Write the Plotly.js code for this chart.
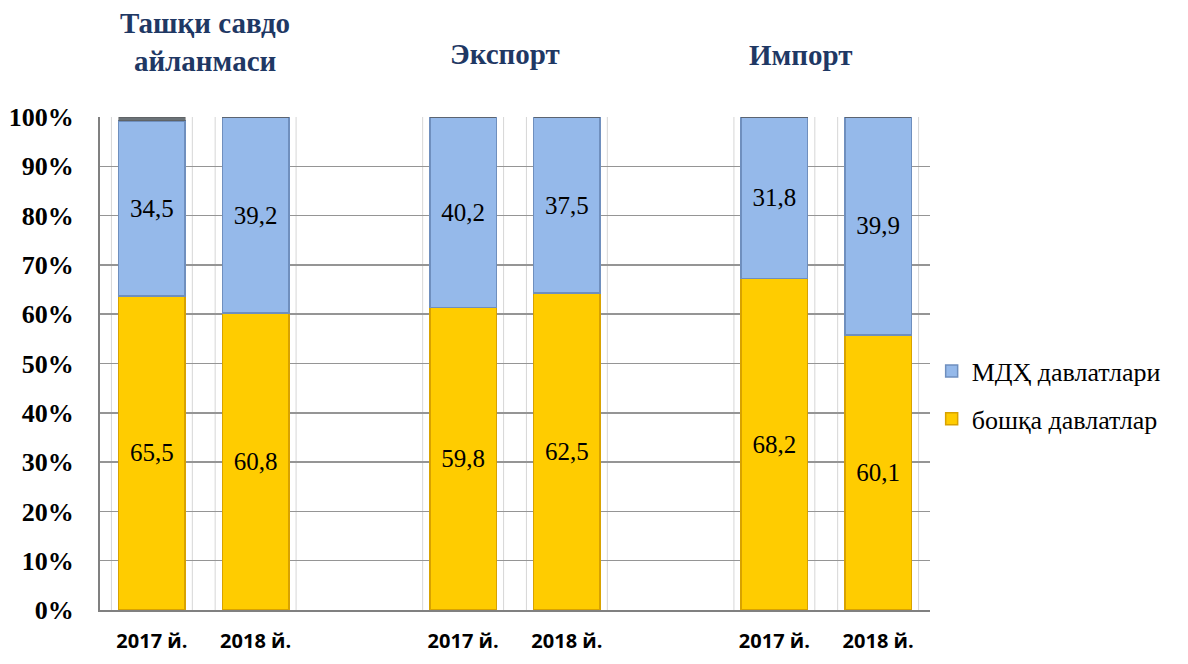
<!DOCTYPE html>
<html>
<head>
<meta charset="utf-8">
<script src="https://cdn.plot.ly/plotly-3.0.1.min.js"></script>
<style>html,body{margin:0;padding:0;background:#fff;}#chart{width:1188px;height:664px;}</style>
</head>
<body>
<div id="chart"></div>
<script>
// Bar slots (gaps between the three groups)
const xPos = [0, 1, 3, 4, 6, 7];
const yearLabels = ["2017 й.", "2018 й.", "2017 й.", "2018 й.", "2017 й.", "2018 й."];
const groupTitles = ["Ташқи савдо<br>айланмаси", "Экспорт", "Импорт"];
const groupTitleX = [0.51, 3.40, 6.26];

// Heights as drawn in the picture (%)
const otherVals = [63.7, 60.2, 61.4, 64.3, 67.2, 55.8];   // бошқа давлатлар
const cisVals   = [35.5, 39.8, 38.6, 35.7, 32.8, 44.2];   // МДҲ давлатлари
const restVals  = [0.8, 0, 0, 0, 0, 0];
// Printed labels
const otherLabels = ["65,5", "60,8", "59,8", "62,5", "68,2", "60,1"];
const cisLabels   = ["34,5", "39,2", "40,2", "37,5", "31,8", "39,9"];

const seriesNames = ["бошқа давлатлар", "МДҲ давлатлари"];

const SERIF = "Liberation Serif";
const labelFont = {family: SERIF, size: 25, color: "#000"};

const traces = [
  {
    type: "bar", x: xPos, y: otherVals, name: seriesNames[0], legendgroup: "a", legendrank: 2,
    text: otherLabels, textposition: "inside", insidetextanchor: "middle",
    textfont: labelFont, width: 0.64, hoverinfo: "skip",
    marker: {color: "#FFCC00", line: {color: "#D8A200", width: 1.5}}
  },
  {
    type: "bar", x: xPos, y: cisVals, name: seriesNames[1], legendgroup: "b", legendrank: 1,
    text: cisLabels, textposition: "inside", insidetextanchor: "middle",
    textfont: labelFont, width: 0.64, hoverinfo: "skip",
    marker: {color: "#95B9EA", line: {color: "#6F8FBE", width: 1.5}}
  },
  {
    type: "bar", x: xPos, y: restVals, showlegend: false, width: 0.64, hoverinfo: "skip",
    marker: {color: "#6B7378", line: {color: "#555", width: 0.5}}
  }
];

const shapes = [];
xPos.forEach(p => {
  [-0.39, 0.39].forEach(d => {
    shapes.push({type: "line", xref: "x", yref: "y", x0: p + d, x1: p + d, y0: 0, y1: 100,
      line: {color: "#D6D6D6", width: 1}, layer: "below"});
  });
});

const annotations = groupTitles.map((t, i) => ({
  text: "<b>" + t + "</b>", xref: "x", yref: "paper", x: groupTitleX[i], y: 1.152,
  xanchor: "center", yanchor: "middle", showarrow: false,
  font: {family: SERIF, size: 29, color: "#1F3864"}
}));
annotations[1].y = 1.128;
annotations[2].y = 1.125;

const layout = {
  width: 1188, height: 664,
  margin: {l: 100, r: 258, t: 117, b: 54},
  barmode: "stack",
  paper_bgcolor: "#fff", plot_bgcolor: "#fff",
  xaxis: {
    range: [-0.5, 7.5], tickvals: xPos, ticktext: yearLabels,
    showgrid: false, zeroline: false, showline: true, linecolor: "#808080", linewidth: 2,
    ticks: "", ticklabelstandoff: 12,
    tickfont: {family: "Open Sans", size: 20, color: "#000", weight: "bold"}
  },
  yaxis: {
    range: [0, 100], dtick: 10, ticksuffix: "%",
    showgrid: true, gridcolor: "#959595", gridwidth: 1.5,
    zeroline: false, showline: true, linecolor: "#808080", linewidth: 2,
    ticks: "", ticklabelstandoff: 19,
    tickfont: {family: SERIF, size: 26, color: "#000", weight: "bold"}
  },
  showlegend: true,
  legend: {
    x: 1.002, y: 0.436, xanchor: "left", yanchor: "middle",
    traceorder: "grouped", tracegroupgap: 11,
    font: {family: SERIF, size: 26, color: "#000"},
    itemwidth: 30
  },
  shapes: shapes,
  annotations: annotations
};

Plotly.newPlot("chart", traces, layout, {displayModeBar: false, staticPlot: true});
</script>
</body>
</html>
